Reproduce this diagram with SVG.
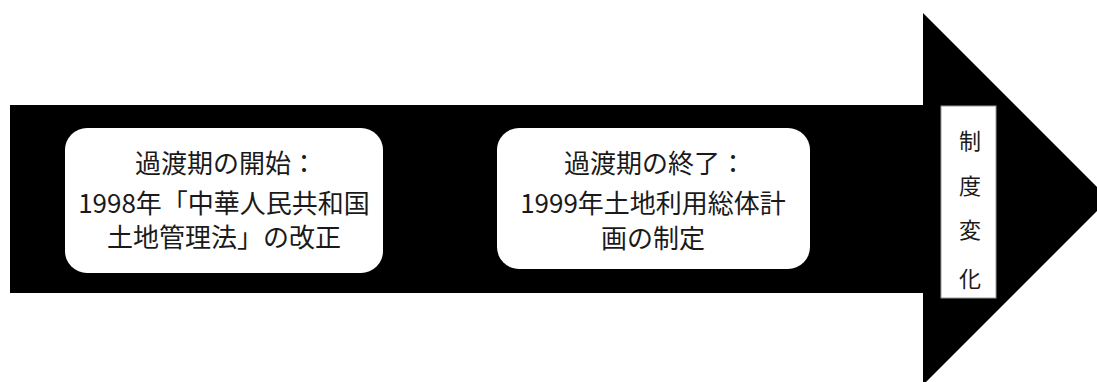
<svg xmlns="http://www.w3.org/2000/svg" width="1097" height="382" viewBox="0 0 1097 382">
<style>
.box{fill:#fff;}
.t{font-family:"Noto Sans CJK JP","Noto Sans",sans-serif;font-size:26px;fill:#1a1a1a;text-anchor:middle;}
.v{font-family:"Noto Sans CJK JP","Noto Sans",sans-serif;font-size:22px;fill:#1a1a1a;text-anchor:middle;}
</style>
<rect width="1097" height="382" fill="#fff"/>
<g id="arrow">
<path d="M10 105 H923 V13 L1109 199 L923 385 V293 H10 Z" fill="#000"/>
</g>
<g id="node1">
<rect class="box" x="65" y="128" width="318" height="145" rx="22"/>
<text class="t" x="226" y="173">過渡期の開始：</text>
<text class="t" x="224" y="213">1998年「中華人民共和国</text>
<text class="t" x="224" y="247">土地管理法」の改正</text>
</g>
<g id="node2">
<rect class="box" x="497" y="128" width="313" height="141" rx="22"/>
<text class="t" x="655" y="173">過渡期の終了：</text>
<text class="t" x="653" y="213">1999年土地利用総体計</text>
<text class="t" x="653" y="248">画の制定</text>
</g>
<g id="node3">
<rect x="941" y="106" width="55" height="192" fill="#fff" stroke="#999" stroke-width="1"/>
<text class="v" x="970" y="149">制</text>
<text class="v" x="970" y="194">度</text>
<text class="v" x="970" y="238">変</text>
<text class="v" x="970" y="287">化</text>
</g>
<g id="connectors"></g>
</svg>
